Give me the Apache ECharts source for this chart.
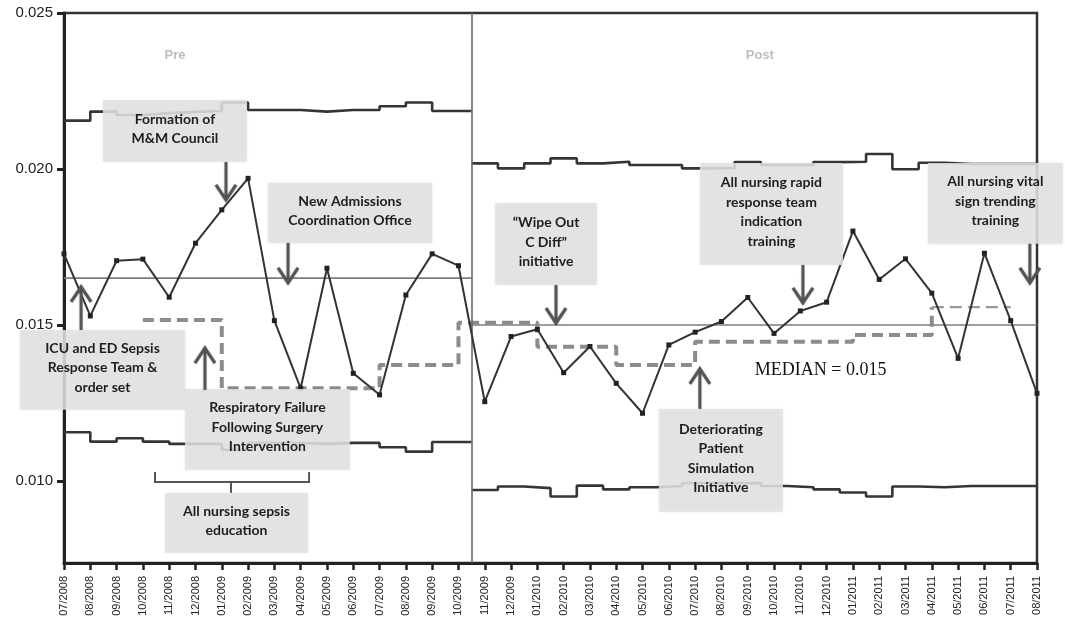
<!DOCTYPE html>
<html>
<head>
<meta charset="utf-8">
<script src="https://cdn.jsdelivr.net/npm/echarts@6/dist/echarts.min.js"></script>
<style>
  html, body { margin: 0; padding: 0; background: #ffffff; }
  #chart { width: 1065px; height: 628px; }
</style>
</head>
<body>
<div id="chart"></div>
<script>
// Monthly categories, 07/2008 .. 08/2011
const months = [
  '07/2008','08/2008','09/2008','10/2008','11/2008','12/2008',
  '01/2009','02/2009','03/2009','04/2009','05/2009','06/2009','07/2009','08/2009','09/2009','10/2009','11/2009','12/2009',
  '01/2010','02/2010','03/2010','04/2010','05/2010','06/2010','07/2010','08/2010','09/2010','10/2010','11/2010','12/2010',
  '01/2011','02/2011','03/2011','04/2011','05/2011','06/2011','07/2011','08/2011'
];

// Monthly rate
const rates = [
  0.01728, 0.01529, 0.01706, 0.01711, 0.01589, 0.01762, 0.01869, 0.01970, 0.01514, 0.01297,
  0.01682, 0.01345, 0.01276, 0.01596, 0.01728, 0.01690, 0.01254, 0.01463, 0.01486, 0.01347,
  0.01431, 0.01313, 0.01217, 0.01436, 0.01477, 0.01511, 0.01588, 0.01473, 0.01545, 0.01573,
  0.01801, 0.01646, 0.01712, 0.01602, 0.01393, 0.01730, 0.01514, 0.01281
];

// Phase boundary (between 10/2009 and 11/2009) and phase medians
const phaseSplit = 15.5;
const preMedian = 0.0165;
const postMedian = 0.015;

// Control limits, pre phase (one value per month 07/2008 .. 10/2009)
const preUcl = [0.02155, 0.02184, 0.02173, 0.02179, 0.02183, 0.02186, 0.02213, 0.02189,
                0.02189, 0.02184, 0.02189, 0.02189, 0.02201, 0.02213, 0.02186, 0.02186];
const preLcl = [0.01156, 0.01126, 0.01137, 0.01126, 0.01119, 0.01119, 0.01099, 0.01122,
                0.01122, 0.01119, 0.01122, 0.01122, 0.01108, 0.01094, 0.01125, 0.01125];

// Control limits, post phase (one value per month 11/2009 .. 08/2011)
const postUcl = [0.02018, 0.02002, 0.02018, 0.02034, 0.02018, 0.02023, 0.02013, 0.02013,
                 0.02002, 0.02003, 0.02022, 0.02013, 0.02013, 0.02022, 0.02023, 0.02048,
                 0.01999, 0.02020, 0.02016, 0.02016, 0.02016, 0.02016];
const postLcl = [0.00971, 0.00982, 0.00977, 0.00950, 0.00985, 0.00973, 0.00980, 0.00984,
                 0.00993, 0.00993, 0.00993, 0.00984, 0.00980, 0.00973, 0.00963, 0.00950,
                 0.00982, 0.00980, 0.00984, 0.00984, 0.00984, 0.00984];

// Stepped median of the rate (start month index and level of each step)
const stepStarts = [3, 6, 12, 15, 18, 21, 24, 30, 33, 36];
const stepLevels = [0.01516, 0.01297, 0.01372, 0.01507, 0.01430, 0.01372, 0.01446, 0.01468, 0.01557, 0.01557];

// Y axis tick labels
const yTicks = [0.010, 0.015, 0.020, 0.025];

// Build step-line data
const firstPost = months.length - postUcl.length;   // 16
const lastIdx = months.length - 1;
function preSteps(vals) {
  const d = vals.map((v, i) => [i, v]);
  d.push([phaseSplit, vals[vals.length - 1]]);
  return d;
}
function postSteps(vals) {
  const d = vals.map((v, k) => [k === 0 ? phaseSplit : firstPost + k - 0.5, v]);
  d.push([lastIdx, vals[vals.length - 1]]);
  return d;
}
const thinFrom = stepStarts.length - 2;
const stepThick = stepStarts.slice(0, thinFrom + 1).map((s, i) => [s, stepLevels[i]]);
const stepThin = stepStarts.slice(thinFrom).map((s, i) => [s, stepLevels[thinFrom + i]]);

const limitStyle = { color: '#353535', width: 2.6 };

const chart = echarts.init(document.getElementById('chart'), null, { renderer: 'canvas' });

const option = {
  animation: false,
  backgroundColor: '#ffffff',
  grid: { left: 64, right: 28, top: 13, bottom: 65, show: true, borderColor: '#333', borderWidth: 2.5 },
  xAxis: [
    {
      type: 'category',
      data: months,
      boundaryGap: false,
      axisLine: { lineStyle: { color: '#222', width: 3 } },
      axisTick: { show: true, interval: 0, length: 7, lineStyle: { color: '#222', width: 2.5 } },
      axisLabel: { interval: 0, rotate: 90, fontSize: 11, color: '#222', margin: 13, fontFamily: 'Liberation Sans' },
      splitLine: { show: false }
    },
    { type: 'value', min: 0, max: lastIdx, show: false }
  ],
  yAxis: {
    type: 'value',
    min: 0.00737,
    max: 0.025,
    axisLine: { show: true, lineStyle: { color: '#222', width: 3 } },
    axisTick: { show: true, length: 7, lineStyle: { color: '#222', width: 3 }, customValues: yTicks },
    axisLabel: {
      customValues: yTicks,
      formatter: v => v.toFixed(3),
      fontSize: 15, color: '#222', margin: 11, fontFamily: 'Liberation Sans'
    },
    splitLine: { show: false }
  },
  series: [
    { name: 'UCL pre', type: 'line', xAxisIndex: 1, step: 'end', data: preSteps(preUcl), symbol: 'none', lineStyle: limitStyle, z: 3 },
    { name: 'LCL pre', type: 'line', xAxisIndex: 1, step: 'end', data: preSteps(preLcl), symbol: 'none', lineStyle: limitStyle, z: 3 },
    { name: 'UCL post', type: 'line', xAxisIndex: 1, step: 'end', data: postSteps(postUcl), symbol: 'none', lineStyle: limitStyle, z: 3 },
    { name: 'LCL post', type: 'line', xAxisIndex: 1, step: 'end', data: postSteps(postLcl), symbol: 'none', lineStyle: limitStyle, z: 3 },
    {
      name: 'Median pre', type: 'line', xAxisIndex: 1, data: [[0, preMedian], [phaseSplit, preMedian]],
      symbol: 'none', lineStyle: { color: '#7d7d7d', width: 1.6 }, z: 2,
      markLine: {
        silent: true, symbol: 'none', label: { show: false },
        lineStyle: { color: '#6a6a6a', width: 1.6, type: 'solid' },
        data: [{ xAxis: phaseSplit }]
      }
    },
    {
      name: 'Median post', type: 'line', xAxisIndex: 1, data: [[phaseSplit, postMedian], [lastIdx, postMedian]],
      symbol: 'none', lineStyle: { color: '#7d7d7d', width: 1.6 }, z: 2
    },
    {
      name: 'Stepped median', type: 'line', xAxisIndex: 1, step: 'end', data: stepThick,
      symbol: 'none', lineStyle: { color: '#8c8c8c', width: 4, type: [11, 6] }, z: 4
    },
    {
      name: 'Stepped median (latest)', type: 'line', xAxisIndex: 1, step: 'end', data: stepThin,
      symbol: 'none', lineStyle: { color: '#999', width: 2.2, type: [12, 6] }, z: 4
    },
    {
      name: 'Rate', type: 'line', xAxisIndex: 0, data: rates,
      symbol: 'rect', symbolSize: 5, showAllSymbol: true,
      itemStyle: { color: '#222' },
      lineStyle: { color: '#333', width: 2 }, z: 5
    }
  ]
};
chart.setOption(option);

// Callout annotations, positioned in (month index, rate) space
const callouts = [
  { lines: ['Formation of', 'M&M Council'], box: [1.48, 0.02221, 6.96, 0.02022], arrow: [6.16, 0.02022, 0.01901] },
  { lines: ['New Admissions', 'Coordination Office'], box: [7.76, 0.01955, 13.99, 0.01763], arrow: [8.52, 0.01763, 0.01635] },
  { lines: ['ICU and ED Sepsis', 'Response Team &', 'order set'], box: [-1.67, 0.01484, 4.6, 0.01228], arrow: [0.65, 0.01484, 0.01622] },
  { lines: ['Respiratory Failure', 'Following Surgery', 'Intervention'], box: [4.6, 0.01295, 10.87, 0.01035], arrow: [5.36, 0.01292, 0.01426] },
  { lines: ['All nursing sepsis', 'education'], box: [3.84, 0.00962, 9.28, 0.00769] },
  { lines: ['\u201cWipe Out', 'C Diff\u201d', 'initiative'], box: [16.39, 0.01891, 20.27, 0.01628], arrow: [18.71, 0.01628, 0.01506] },
  { lines: ['All nursing rapid', 'response team', 'indication', 'training'], box: [24.18, 0.02019, 29.62, 0.01692], arrow: [28.1, 0.01692, 0.01571] },
  { lines: ['All nursing vital', 'sign trending', 'training'], box: [32.85, 0.02019, 37.98, 0.01760], arrow: [36.73, 0.01760, 0.01635] },
  { lines: ['Deteriorating', 'Patient', 'Simulation', 'Initiative'], box: [22.62, 0.01231, 27.34, 0.00901], arrow: [24.18, 0.01231, 0.01359] }
];
// Brace grouping the sepsis education months
const brace = { x0: 3.46, x1: 9.32, top: 0.01029, bar: 0.00997, stemX: 6.35, stemEnd: 0.00962 };

const toPx = (x, y) => chart.convertToPixel({ xAxisIndex: 1, yAxisIndex: 0 }, [x, y]);
const arrowColor = '#565656';
const elements = [];

callouts.forEach(c => {
  const p0 = toPx(c.box[0], c.box[1]);
  const p1 = toPx(c.box[2], c.box[3]);
  elements.push({
    type: 'rect', z: 100,
    shape: { x: p0[0], y: p0[1], width: p1[0] - p0[0], height: p1[1] - p0[1] },
    style: { fill: 'rgba(226,226,226,0.87)', shadowBlur: 3, shadowColor: 'rgba(0,0,0,0.12)' }
  });
  elements.push({
    type: 'text', z: 101,
    x: (p0[0] + p1[0]) / 2, y: (p0[1] + p1[1]) / 2 - 2,
    style: {
      text: c.lines.join('\n'), fontFamily: 'Lato', fontWeight: 'bold', fontSize: 14,
      lineHeight: 19.5, fill: '#1e1e1e', align: 'center', verticalAlign: 'middle'
    }
  });
  if (c.arrow) {
    const a = toPx(c.arrow[0], c.arrow[1]);
    const b = toPx(c.arrow[0], c.arrow[2]);
    const dir = b[1] > a[1] ? 1 : -1;
    elements.push({
      type: 'line', z: 102,
      shape: { x1: a[0], y1: a[1], x2: b[0], y2: b[1] },
      style: { stroke: arrowColor, lineWidth: 3, shadowBlur: 2, shadowColor: 'rgba(0,0,0,0.25)' }
    });
    elements.push({
      type: 'polyline', z: 102,
      shape: { points: [[b[0] - 10, b[1] - dir * 15], [b[0], b[1]], [b[0] + 10, b[1] - dir * 15]] },
      style: { stroke: arrowColor, lineWidth: 3.2, fill: null, lineJoin: 'miter', shadowBlur: 2, shadowColor: 'rgba(0,0,0,0.25)' }
    });
  }
});

(function () {
  const l = toPx(brace.x0, brace.top), lb = toPx(brace.x0, brace.bar);
  const r = toPx(brace.x1, brace.top), rb = toPx(brace.x1, brace.bar);
  const s0 = toPx(brace.stemX, brace.bar), s1 = toPx(brace.stemX, brace.stemEnd);
  elements.push({
    type: 'polyline', z: 102,
    shape: { points: [l, lb, rb, r], smooth: 0 },
    style: { stroke: '#555', lineWidth: 2, fill: null }
  });
  elements.push({
    type: 'line', z: 102,
    shape: { x1: s0[0], y1: s0[1], x2: s1[0], y2: s1[1] },
    style: { stroke: '#555', lineWidth: 2 }
  });
})();

// Phase titles and median note
const prePos = toPx(4.22, 0.02365);
const postPos = toPx(26.46, 0.02365);
[['Pre', prePos], ['Post', postPos]].forEach(([t, p]) => {
  elements.push({
    type: 'text', z: 101, x: p[0], y: p[1],
    style: { text: t, fontFamily: 'Liberation Sans', fontWeight: 'bold', fontSize: 13, fill: '#bdbdbd', align: 'center', verticalAlign: 'middle' }
  });
});
const medPos = toPx(26.27, 0.01356);
elements.push({
  type: 'text', z: 101, x: medPos[0], y: medPos[1],
  style: { text: 'MEDIAN = 0.015', fontFamily: 'Liberation Serif', fontSize: 18, fill: '#111', align: 'left', verticalAlign: 'middle' }
});

chart.setOption({ graphic: { elements: elements } });
</script>
</body>
</html>
